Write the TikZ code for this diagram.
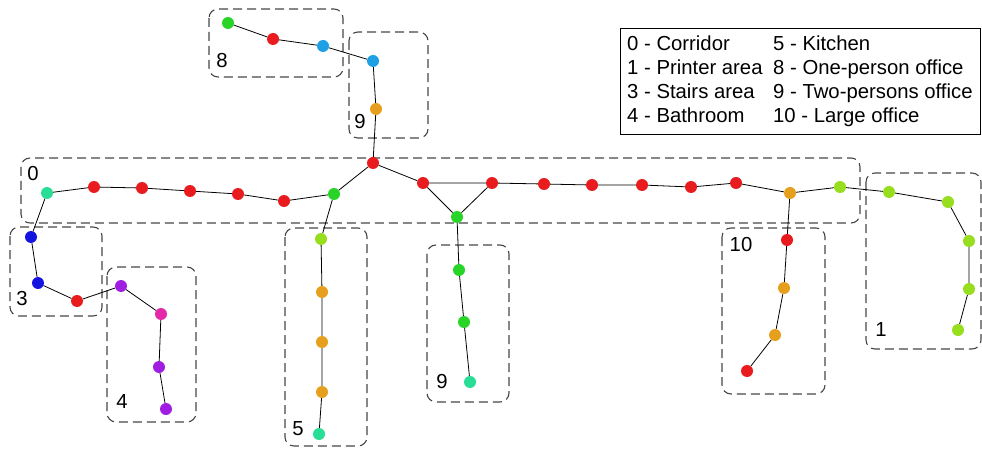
\documentclass[tikz,border=0pt]{standalone}
\usepackage{fontspec}
\setmainfont{Liberation Sans}
\usepackage{tikz}
\usetikzlibrary{calc}
\definecolor{dred}{RGB}{232,28,30}
\definecolor{dgreen}{RGB}{40,212,40}
\definecolor{dteal}{RGB}{40,222,150}
\definecolor{dsky}{RGB}{30,160,228}
\definecolor{dorange}{RGB}{230,160,30}
\definecolor{dlime}{RGB}{150,222,30}
\definecolor{dblue}{RGB}{20,20,225}
\definecolor{dpurple}{RGB}{160,30,225}
\definecolor{dmagenta}{RGB}{228,40,170}

\begin{document}
\begin{tikzpicture} [x=1pt, y=-1pt,
  dot/.style={circle, inner sep=0pt, minimum size=12pt, draw=none},
  room/.style={dashed, dash pattern=on 9pt off 5pt, line width=1.1pt, draw=black!72, rounded corners=9pt},
  lbl/.style={inner sep=0pt, font=\fontsize{20.3}{24}\selectfont},
  link/.style={line width=0.8pt}]
\useasboundingbox (0,0) rectangle (982,449);

\draw[room] (209,9) rectangle (343,77);
\draw[room] (349,32) rectangle (428,138);
\draw[room] (21,158) rectangle (860,223);
\draw[room] (10,227) rectangle (102,316);
\draw[room] (107,267) rectangle (196,422);
\draw[room] (285,228) rectangle (367,446);
\draw[room] (427,245) rectangle (509,402);
\draw[room] (722,228) rectangle (825,394);
\draw[room] (866,173) rectangle (981,349);

\node[lbl] (n8) at (222,61) {8};
\node[lbl] (n9a) at (360,122) {9};
\node[lbl] (n0) at (33,174) {0};
\node[lbl] (n3) at (22,299) {3};
\node[lbl] (n4) at (122,402) {4};
\node[lbl] (n5) at (298,429) {5};
\node[lbl] (n9b) at (442,382) {9};
\node[lbl] (n10) at (741,245) {10};
\node[lbl] (n1) at (881,330) {1};

\node[dot, fill=dteal] (c1) at (47,193) {};
\node[dot, fill=dred] (c2) at (94,187) {};
\node[dot, fill=dred] (c3) at (142,188) {};
\node[dot, fill=dred] (c4) at (190,191) {};
\node[dot, fill=dred] (c5) at (238,194) {};
\node[dot, fill=dred] (c6) at (284,201) {};
\node[dot, fill=dgreen] (c7) at (334,194) {};
\node[dot, fill=dred] (c8) at (373,163) {};
\node[dot, fill=dred] (c9) at (423,183) {};
\node[dot, fill=dred] (c10) at (492,183) {};
\node[dot, fill=dgreen] (c11) at (457,217) {};
\node[dot, fill=dred] (c12) at (544,184) {};
\node[dot, fill=dred] (c13) at (592,185) {};
\node[dot, fill=dred] (c14) at (642,185) {};
\node[dot, fill=dred] (c15) at (691,187) {};
\node[dot, fill=dred] (c16) at (736,183) {};
\node[dot, fill=dorange] (c17) at (790,193) {};
\node[dot, fill=dlime] (c18) at (840,187) {};

\node[dot, fill=dgreen] (p1) at (228,23) {};
\node[dot, fill=dred] (p2) at (273,39) {};
\node[dot, fill=dsky] (p3) at (323,46) {};
\node[dot, fill=dsky] (p4) at (373,61) {};
\node[dot, fill=dorange] (p5) at (376,109) {};

\node[dot, fill=dblue] (s1) at (31,237) {};
\node[dot, fill=dblue] (s2) at (38,283) {};
\node[dot, fill=dred] (s3) at (77,301) {};

\node[dot, fill=dpurple] (b1) at (121,286) {};
\node[dot, fill=dmagenta] (b2) at (161,314) {};
\node[dot, fill=dpurple] (b3) at (159,367) {};
\node[dot, fill=dpurple] (b4) at (166,409) {};

\node[dot, fill=dlime] (k1) at (321,239) {};
\node[dot, fill=dorange] (k2) at (322,292) {};
\node[dot, fill=dorange] (k3) at (322,342) {};
\node[dot, fill=dorange] (k4) at (322,392) {};
\node[dot, fill=dteal] (k5) at (319,434) {};

\node[dot, fill=dgreen] (t1) at (459,270) {};
\node[dot, fill=dgreen] (t2) at (464,322) {};
\node[dot, fill=dteal] (t3) at (470,382) {};

\node[dot, fill=dred] (l1) at (787,240) {};
\node[dot, fill=dorange] (l2) at (784,288) {};
\node[dot, fill=dorange] (l3) at (775,335) {};
\node[dot, fill=dred] (l4) at (747,371) {};

\node[dot, fill=dlime] (r1) at (889,192) {};
\node[dot, fill=dlime] (r2) at (948,202) {};
\node[dot, fill=dlime] (r3) at (969,241) {};
\node[dot, fill=dlime] (r4) at (969,289) {};
\node[dot, fill=dlime] (r5) at (958,330) {};

\draw[link] (c1) -- (c2) -- (c3) -- (c4) -- (c5) -- (c6) -- (c7) -- (c8) -- (c9) -- (c10) -- (c12) -- (c13) -- (c14) -- (c15) -- (c16) -- (c17) -- (c18);
\draw[link] (c9) -- (c11) -- (c10);
\draw[link] (p1) -- (p2) -- (p3) -- (p4) -- (p5) -- (c8);
\draw[link] (c1) -- (s1) -- (s2) -- (s3) -- (b1) -- (b2) -- (b3) -- (b4);
\draw[link] (c7) -- (k1) -- (k2) -- (k3) -- (k4) -- (k5);
\draw[link] (c11) -- (t1) -- (t2) -- (t3);
\draw[link] (c17) -- (l1) -- (l2) -- (l3) -- (l4);
\draw[link] (c18) -- (r1) -- (r2) -- (r3) -- (r4) -- (r5);

\draw[line width=0.9pt] (620,28) rectangle (980,134);
\node[lbl, anchor=base west] (g0) at (627,50.7) {0 - Corridor};
\node[lbl, anchor=base west] (g1) at (627,75) {1 - Printer area};
\node[lbl, anchor=base west] (g3) at (627,98.7) {3 - Stairs area};
\node[lbl, anchor=base west] (g4) at (627,123) {4 - Bathroom};
\node[lbl, anchor=base west] (g5) at (773,50.7) {5 - Kitchen};
\node[lbl, anchor=base west] (g8) at (773,75) {8 - One-person office};
\node[lbl, anchor=base west] (g9) at (773,98.7) {9 - Two-persons office};
\node[lbl, anchor=base west] (g10) at (773,123) {10 - Large office};
\end{tikzpicture}
\end{document}
